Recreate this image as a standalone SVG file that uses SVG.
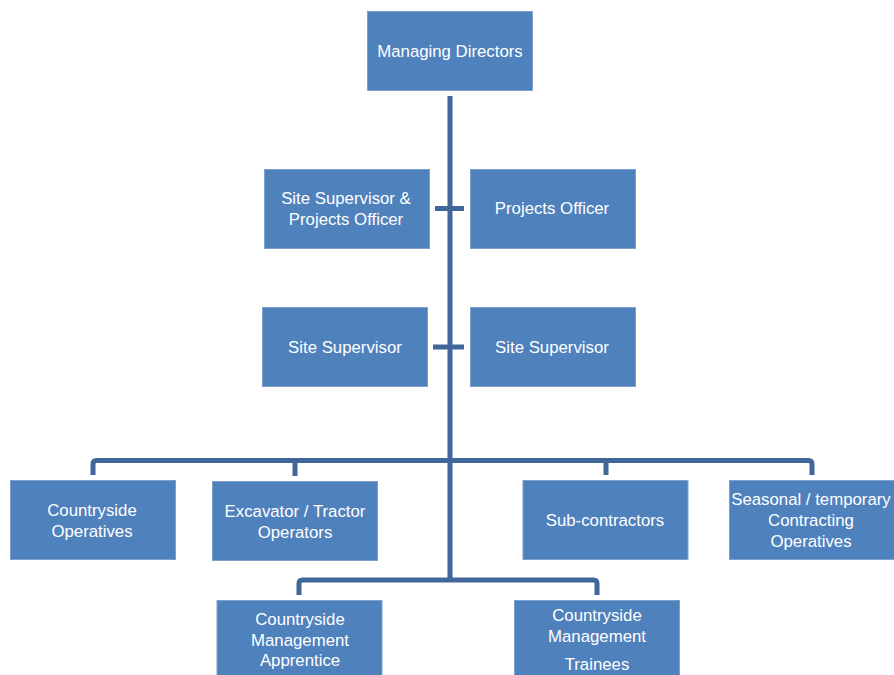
<svg xmlns="http://www.w3.org/2000/svg" width="894" height="675" viewBox="0 0 894 675">
<style>
.box{fill:#4F81BD;stroke:#7DA0CE;stroke-width:1}
.t{font-family:"Liberation Sans",Arial,sans-serif;font-size:16.8px;fill:#FFFFFF;text-anchor:middle}
.c{fill:none;stroke:#41679A;stroke-width:5;stroke-linejoin:round;stroke-linecap:butt}
</style>
<rect width="894" height="675" fill="#FFFFFF"/>
<g id="connectors">
<path class="c" d="M450,96 V580"/>
<path class="c" d="M435,208.5 H464"/>
<path class="c" d="M433,347 H464"/>
<path class="c" d="M93,475 V464 Q93,460.5 96.5,460.5 H808.5 Q812,460.5 812,464 V475"/>
<path class="c" d="M295,476 V460.5"/>
<path class="c" d="M606,475 V460.5"/>
<path class="c" d="M299,595 V583.5 Q299,580 302.5,580 H593.5 Q597,580 597,583.5 V595"/>
</g>
<g id="n1"><rect class="box" x="367.5" y="11.5" width="165" height="79"/><text class="t" x="450" y="57">Managing Directors</text></g>
<g id="n2"><rect class="box" x="264.5" y="169.5" width="165" height="79"/><text class="t" x="346" y="204">Site Supervisor &amp;</text><text class="t" x="346" y="225">Projects Officer</text></g>
<g id="n3"><rect class="box" x="470.5" y="169.5" width="165" height="79"/><text class="t" x="552" y="214">Projects Officer</text></g>
<g id="n4"><rect class="box" x="262.5" y="307.5" width="165" height="79"/><text class="t" x="345" y="352.5">Site Supervisor</text></g>
<g id="n5"><rect class="box" x="470.5" y="307.5" width="165" height="79"/><text class="t" x="552" y="352.5">Site Supervisor</text></g>
<g id="n6"><rect class="box" x="10.5" y="480.5" width="165" height="79"/><text class="t" x="92" y="516">Countryside</text><text class="t" x="92" y="537">Operatives</text></g>
<g id="n7"><rect class="box" x="212.5" y="481.5" width="165" height="79"/><text class="t" x="295" y="517">Excavator / Tractor</text><text class="t" x="295" y="538">Operators</text></g>
<g id="n8"><rect class="box" x="523" y="480.5" width="165" height="79"/><text class="t" x="605" y="526">Sub-contractors</text></g>
<g id="n9"><rect class="box" x="729.5" y="480.5" width="165" height="79"/><text class="t" x="811" y="505">Seasonal / temporary</text><text class="t" x="811" y="526">Contracting</text><text class="t" x="811" y="547">Operatives</text></g>
<g id="n10"><rect class="box" x="217" y="600.5" width="165" height="79"/><text class="t" x="300" y="625">Countryside</text><text class="t" x="300" y="646">Management</text><text class="t" x="300" y="666">Apprentice</text></g>
<g id="n11"><rect class="box" x="514.5" y="600.5" width="165" height="79"/><text class="t" x="597" y="621">Countryside</text><text class="t" x="597" y="642">Management</text><text class="t" x="597" y="670">Trainees</text></g>
</svg>
